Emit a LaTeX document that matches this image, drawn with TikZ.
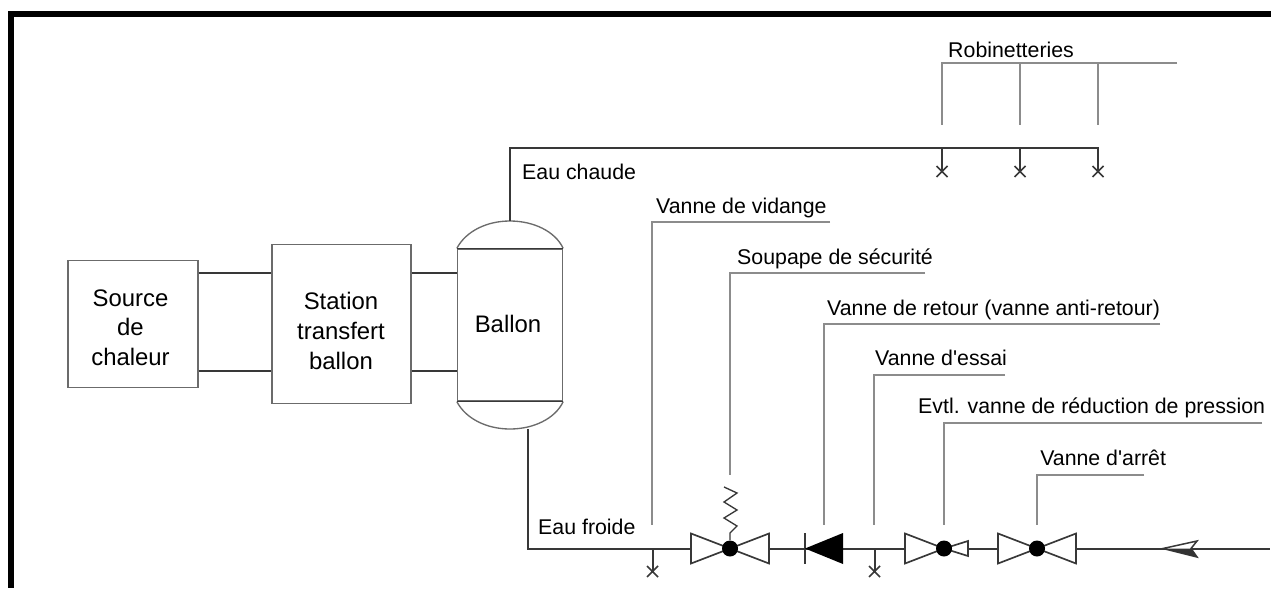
\documentclass[tikz,border=0pt]{standalone}
\usepackage{fontspec}
\newfontfamily\arialfont{Liberation Sans}
\definecolor{boxgray}{gray}{0.42}
\definecolor{pipegray}{gray}{0.22}
\definecolor{leadgray}{gray}{0.55}
\tikzset{
  x=0.03cm,y=-0.03cm,
  box/.style={draw=boxgray,line width=0.04cm},
  blocknode/.style={box,inner sep=0pt},
  blocktext/.style={inner sep=0pt,align=center,text=black,font=\arialfont\fontsize{20.4pt}{25.3pt}\selectfont},
  pipe/.style={draw=pipegray,line width=0.06cm},
  leader/.style={draw=leadgray,line width=0.04cm},
  lab/.style={font=\arialfont\fontsize{18.2pt}{22pt}\selectfont,text=black,anchor=base west,inner sep=0pt},
  bow/.style={draw=pipegray,line width=0.05cm,fill=white},
  cross/.style={draw=pipegray,line width=0.045cm},
}
\begin{document}
\begin{tikzpicture}
\useasboundingbox (0,0) rectangle (1271,588);
\fill[white] (0,0) rectangle (1271,588);
\fill[black] (8,11) rectangle (1271,16.5);
\fill[black] (8,11) rectangle (13.5,588);
% boxes
\node[blocknode,minimum width=3.9cm,minimum height=3.81cm] (src) at (133,324) {};
\node[blocknode,minimum width=4.17cm,minimum height=4.77cm] (stn) at (341.5,324) {};
\node[blocknode,minimum width=3.15cm,minimum height=4.56cm] (bal) at (510,325) {};
\node[blocktext] (srct) at (130.5,327.5) {Source\\de\\chaleur};
\node[blocktext] (stnt) at (341,331) {Station\\transfert\\ballon};
\node[blocktext] (balt) at (508,324) {Ballon};
\draw[pipe] (src.east |- 0,273) -- (stn.west |- 0,273);
\draw[pipe] (src.east |- 0,371) -- (stn.west |- 0,371);
\draw[pipe] (stn.east |- 0,273) -- (bal.west |- 0,273);
\draw[pipe] (stn.east |- 0,371) -- (bal.west |- 0,371);
% tank heads
\draw[box] (bal.north west) .. controls (466,231) and (487,221) .. (510,221) .. controls (533,221) and (555,231) .. (bal.north east);
\draw[box] (bal.south west) .. controls (466,419) and (487,429) .. (510,429) .. controls (533,429) and (555,419) .. (bal.south east);
\draw[pipe,line width=0.045cm] (bal.north west) -- (bal.north east);
\draw[pipe,line width=0.045cm] (bal.south west) -- (bal.south east);
% hot
\draw[pipe] (510,221) -- (510,148) -- (1098,148) -- (1098,172);
\node[lab] (ec) at (522,179) {Eau chaude};
\foreach \x in {942,1020,1098}{
  \draw[pipe] (\x,148) -- (\x,172);
  \draw[cross] (\x-5.5,166) -- (\x+5.5,177) (\x+5.5,166) -- (\x-5.5,177);
}
\node[lab] (rob) at (948,57) {Robinetteries};
\draw[leader] (1177,63) -- (942,63) -- (942,125);
\draw[leader] (1020,63) -- (1020,125);
\draw[leader] (1098,63) -- (1098,125);
% cold
\draw[pipe] (528,429) -- (528,548.5) -- (1270,548.5);
\node[lab] (ef) at (538,534) {Eau froide};
\foreach \x in {652.5,874.5}{
  \draw[pipe] (\x,548) -- (\x,572);
  \draw[cross] (\x-5.5,566) -- (\x+5.5,577) (\x+5.5,566) -- (\x-5.5,577);
}
% valves
\draw[bow] (691,533.5) -- (730,548.5) -- (691,563.5) -- cycle;
\draw[bow] (769,533.5) -- (730,548.5) -- (769,563.5) -- cycle;
\fill[black] (730,548.5) circle (0.24cm);
\draw[pipe,line width=0.04cm] (730,540) -- (730,533) -- (737,526) -- (724,518) -- (737,510) -- (724,502) -- (737,493) -- (724,487);
\draw[pipe] (805,533) -- (805,564);
\fill[black] (805,548.5) -- (843,533) -- (843,564) -- cycle;
\draw[bow] (905,533.5) -- (944,548.5) -- (905,563.5) -- cycle;
\draw[bow] (968,541) -- (944,548.5) -- (968,556) -- cycle;
\fill[black] (944,548.5) circle (0.24cm);
\draw[bow] (998,533.5) -- (1037,548.5) -- (998,563.5) -- cycle;
\draw[bow] (1076,533.5) -- (1037,548.5) -- (1076,563.5) -- cycle;
\fill[black] (1037,548.5) circle (0.24cm);
% flow arrow
\draw[draw=pipegray,line width=0.045cm,fill=white] (1163,548.5) -- (1197,541) -- (1191,548.5) -- (1197,557) -- cycle;
\fill[black!80] (1163,548.5) -- (1191,548.5) -- (1197,557) -- cycle;
% leaders
\node[lab] (v1) at (656,213) {Vanne de vidange};
\draw[leader] (830,222) -- (652,222) -- (652,525);
\node[lab] (v2) at (737,264) {Soupape de sécurité};
\draw[leader] (925,273) -- (730,273) -- (730,475);
\node[lab] (v3) at (827,315) {Vanne de retour (vanne anti-retour)};
\draw[leader] (1160,324) -- (824,324) -- (824,525);
\node[lab] (v4) at (875,365) {Vanne d'essai};
\draw[leader] (1005,375) -- (874,375) -- (874,525);
\node[lab] (v5) at (918,413) {Evtl. vanne de réduction de pression};
\draw[leader] (1262,423) -- (944,423) -- (944,525);
\node[lab] (v6) at (1040,465) {Vanne d'arrêt};
\draw[leader] (1144,475) -- (1037,475) -- (1037,525);
\end{tikzpicture}
\end{document}
